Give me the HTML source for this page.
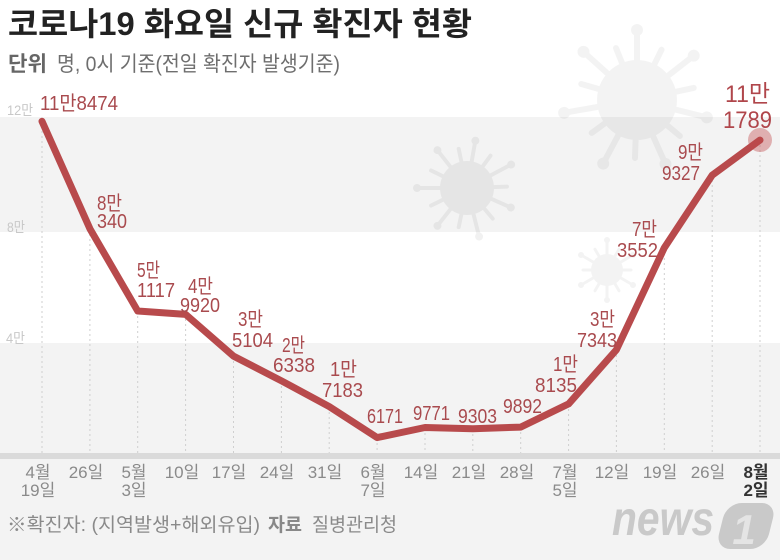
<!DOCTYPE html>
<html><head><meta charset="utf-8"><style>
html,body{margin:0;padding:0;background:#fff;}
svg{display:block;}
text{font-family:"Liberation Sans","Noto Sans CJK KR",sans-serif;}
</style></head><body>
<svg width="780" height="560" viewBox="0 0 780 560" xmlns="http://www.w3.org/2000/svg">
<rect x="0" y="0" width="780" height="560" fill="#ffffff"/>
<rect x="0" y="117" width="780" height="115" fill="#f3f3f3"/>
<rect x="0" y="343" width="780" height="217" fill="#f3f3f3"/>
<rect x="0" y="453" width="780" height="6" fill="#dadada"/>

<!-- viruses -->
<g fill="#000" stroke="#000" opacity="0.045">
 <g transform="translate(637,100)">
  <circle r="40" stroke="none"/>
  <g stroke-width="6" stroke-linecap="round">
   <g transform="rotate(0)"><line y1="0" y2="-70"/><circle cy="-70" r="6" stroke="none"/></g>
   <g transform="rotate(26)"><line y1="0" y2="-56"/></g>
   <g transform="rotate(52)"><line y1="0" y2="-72"/><circle cy="-72" r="6" stroke="none"/></g>
   <g transform="rotate(78)"><line y1="0" y2="-58"/></g>
   <g transform="rotate(104)"><line y1="0" y2="-72"/><circle cy="-72" r="6" stroke="none"/></g>
   <g transform="rotate(130)"><line y1="0" y2="-56"/></g>
   <g transform="rotate(156)"><line y1="0" y2="-70"/><circle cy="-70" r="6" stroke="none"/></g>
   <g transform="rotate(182)"><line y1="0" y2="-58"/></g>
   <g transform="rotate(208)"><line y1="0" y2="-72"/><circle cy="-72" r="6" stroke="none"/></g>
   <g transform="rotate(234)"><line y1="0" y2="-56"/></g>
   <g transform="rotate(260)"><line y1="0" y2="-74"/><circle cy="-74" r="6" stroke="none"/></g>
   <g transform="rotate(286)"><line y1="0" y2="-58"/></g>
   <g transform="rotate(312)"><line y1="0" y2="-72"/><circle cy="-72" r="6" stroke="none"/></g>
   <g transform="rotate(338)"><line y1="0" y2="-56"/></g>
  </g>
 </g>
</g>
<g fill="#000" stroke="#000" opacity="0.05">
 <g transform="translate(467,188)">
  <circle r="27" stroke="none"/>
  <g stroke-width="4" stroke-linecap="round">
   <g transform="rotate(10)"><line y1="0" y2="-48"/><circle cy="-48" r="4" stroke="none"/></g>
   <g transform="rotate(36)"><line y1="0" y2="-40"/></g>
   <g transform="rotate(62)"><line y1="0" y2="-50"/><circle cy="-50" r="4" stroke="none"/></g>
   <g transform="rotate(88)"><line y1="0" y2="-40"/></g>
   <g transform="rotate(114)"><line y1="0" y2="-48"/><circle cy="-48" r="4" stroke="none"/></g>
   <g transform="rotate(140)"><line y1="0" y2="-40"/></g>
   <g transform="rotate(166)"><line y1="0" y2="-50"/><circle cy="-50" r="4" stroke="none"/></g>
   <g transform="rotate(192)"><line y1="0" y2="-40"/></g>
   <g transform="rotate(218)"><line y1="0" y2="-48"/><circle cy="-48" r="4" stroke="none"/></g>
   <g transform="rotate(244)"><line y1="0" y2="-40"/></g>
   <g transform="rotate(270)"><line y1="0" y2="-50"/><circle cy="-50" r="4" stroke="none"/></g>
   <g transform="rotate(296)"><line y1="0" y2="-40"/></g>
   <g transform="rotate(322)"><line y1="0" y2="-48"/><circle cy="-48" r="4" stroke="none"/></g>
   <g transform="rotate(348)"><line y1="0" y2="-40"/></g>
  </g>
 </g>
</g>
<g fill="#000" stroke="#000" opacity="0.045">
 <g transform="translate(607,270)">
  <circle r="16" stroke="none"/>
  <g stroke-width="3" stroke-linecap="round">
   <g transform="rotate(0)"><line y1="0" y2="-30"/><circle cy="-30" r="3" stroke="none"/></g>
   <g transform="rotate(30)"><line y1="0" y2="-24"/></g>
   <g transform="rotate(60)"><line y1="0" y2="-30"/><circle cy="-30" r="3" stroke="none"/></g>
   <g transform="rotate(90)"><line y1="0" y2="-24"/></g>
   <g transform="rotate(120)"><line y1="0" y2="-30"/><circle cy="-30" r="3" stroke="none"/></g>
   <g transform="rotate(150)"><line y1="0" y2="-24"/></g>
   <g transform="rotate(180)"><line y1="0" y2="-30"/><circle cy="-30" r="3" stroke="none"/></g>
   <g transform="rotate(210)"><line y1="0" y2="-24"/></g>
   <g transform="rotate(240)"><line y1="0" y2="-30"/><circle cy="-30" r="3" stroke="none"/></g>
   <g transform="rotate(270)"><line y1="0" y2="-24"/></g>
   <g transform="rotate(300)"><line y1="0" y2="-30"/><circle cy="-30" r="3" stroke="none"/></g>
   <g transform="rotate(330)"><line y1="0" y2="-24"/></g>
  </g>
 </g>
</g>

<!-- title -->
<text x="8" y="35" font-size="32" font-weight="bold" fill="#222" textLength="464" lengthAdjust="spacingAndGlyphs">코로나19 화요일 신규 확진자 현황</text>
<text x="8" y="71" font-size="21" font-weight="bold" fill="#666" textLength="39" lengthAdjust="spacingAndGlyphs">단위</text>
<text x="57" y="71" font-size="21" fill="#6e6e6e" textLength="283" lengthAdjust="spacingAndGlyphs">명, 0시 기준(전일 확진자 발생기준)</text>

<!-- y labels -->
<text x="7" y="115" font-size="14" fill="#c8c8c8" textLength="26" lengthAdjust="spacingAndGlyphs">12만</text>
<text x="7" y="232" font-size="14" fill="#c8c8c8" textLength="18" lengthAdjust="spacingAndGlyphs">8만</text>
<text x="6" y="343" font-size="14" fill="#c8c8c8" textLength="19" lengthAdjust="spacingAndGlyphs">4만</text>

<!-- drop lines -->
<g stroke="#cfcfcf" stroke-width="1" stroke-dasharray="2 3">
 <line x1="42" y1="121" x2="42" y2="453"/>
 <line x1="89.9" y1="229" x2="89.9" y2="453"/>
 <line x1="137.7" y1="311" x2="137.7" y2="453"/>
 <line x1="185.6" y1="314" x2="185.6" y2="453"/>
 <line x1="233.5" y1="356" x2="233.5" y2="453"/>
 <line x1="281.4" y1="381" x2="281.4" y2="453"/>
 <line x1="329.2" y1="407" x2="329.2" y2="453"/>
 <line x1="377.1" y1="438" x2="377.1" y2="453"/>
 <line x1="425" y1="428" x2="425" y2="453"/>
 <line x1="472.8" y1="429" x2="472.8" y2="453"/>
 <line x1="520.7" y1="427" x2="520.7" y2="453"/>
 <line x1="568.6" y1="404" x2="568.6" y2="453"/>
 <line x1="616.4" y1="350" x2="616.4" y2="453"/>
 <line x1="664.3" y1="248" x2="664.3" y2="453"/>
 <line x1="712.2" y1="175" x2="712.2" y2="453"/>
 <line x1="760" y1="140" x2="760" y2="453"/>
</g>

<!-- series -->
<polyline fill="none" stroke="#b84a4c" stroke-width="7" stroke-linejoin="round" stroke-linecap="round"
 points="42,121.3 89.9,228.7 137.7,311 185.6,314.4 233.5,356.1 281.4,380.8 329.2,406.6 377.1,437.6 425,427.5 472.8,428.8 520.7,427.1 568.6,403.9 616.4,349.8 664.3,247.8 712.2,175.2 760,140.1"/>
<circle cx="760" cy="140" r="12" fill="#c0494c" opacity="0.4"/>

<!-- data labels -->
<g font-size="20" fill="#a94a4e">
 <text x="40" y="110" textLength="78" lengthAdjust="spacingAndGlyphs">11만8474</text>
 <text x="97" y="210" textLength="25" lengthAdjust="spacingAndGlyphs">8만</text>
 <text x="97" y="228" textLength="30" lengthAdjust="spacingAndGlyphs">340</text>
 <text x="137" y="277" textLength="23" lengthAdjust="spacingAndGlyphs">5만</text>
 <text x="137" y="297" textLength="38" lengthAdjust="spacingAndGlyphs">1117</text>
 <text x="188" y="293" textLength="25" lengthAdjust="spacingAndGlyphs">4만</text>
 <text x="180" y="312" textLength="40" lengthAdjust="spacingAndGlyphs">9920</text>
 <text x="238" y="326" textLength="25" lengthAdjust="spacingAndGlyphs">3만</text>
 <text x="232" y="347" textLength="41" lengthAdjust="spacingAndGlyphs">5104</text>
 <text x="282" y="352" textLength="23" lengthAdjust="spacingAndGlyphs">2만</text>
 <text x="273" y="372" textLength="42" lengthAdjust="spacingAndGlyphs">6338</text>
 <text x="330" y="376" textLength="27" lengthAdjust="spacingAndGlyphs">1만</text>
 <text x="322" y="397" textLength="41" lengthAdjust="spacingAndGlyphs">7183</text>
 <text x="367" y="423" textLength="36" lengthAdjust="spacingAndGlyphs">6171</text>
 <text x="413" y="420" textLength="37" lengthAdjust="spacingAndGlyphs">9771</text>
 <text x="458" y="423" textLength="39" lengthAdjust="spacingAndGlyphs">9303</text>
 <text x="503" y="413" textLength="39" lengthAdjust="spacingAndGlyphs">9892</text>
 <text x="553" y="371" textLength="25" lengthAdjust="spacingAndGlyphs">1만</text>
 <text x="535" y="392" textLength="42" lengthAdjust="spacingAndGlyphs">8135</text>
 <text x="590" y="326" textLength="25" lengthAdjust="spacingAndGlyphs">3만</text>
 <text x="577" y="347" textLength="40" lengthAdjust="spacingAndGlyphs">7343</text>
 <text x="632" y="236" textLength="25" lengthAdjust="spacingAndGlyphs">7만</text>
 <text x="617" y="257" textLength="41" lengthAdjust="spacingAndGlyphs">3552</text>
 <text x="678" y="159" textLength="25" lengthAdjust="spacingAndGlyphs">9만</text>
 <text x="662" y="180" textLength="38" lengthAdjust="spacingAndGlyphs">9327</text>
</g>
<g font-size="24" fill="#b0464b">
 <text x="725" y="102" textLength="45" lengthAdjust="spacingAndGlyphs">11만</text>
 <text x="723" y="128" textLength="49" lengthAdjust="spacingAndGlyphs">1789</text>
</g>

<!-- x labels -->
<g font-size="17" fill="#8a8a8a" text-anchor="middle">
 <text x="38" y="478">4월</text><text x="38" y="496">19일</text>
 <text x="86" y="478">26일</text>
 <text x="134" y="478">5월</text><text x="134" y="496">3일</text>
 <text x="182" y="478">10일</text>
 <text x="229" y="478">17일</text>
 <text x="277" y="478">24일</text>
 <text x="325" y="478">31일</text>
 <text x="373" y="478">6월</text><text x="373" y="496">7일</text>
 <text x="421" y="478">14일</text>
 <text x="469" y="478">21일</text>
 <text x="517" y="478">28일</text>
 <text x="565" y="478">7월</text><text x="565" y="496">5일</text>
 <text x="612" y="478">12일</text>
 <text x="660" y="478">19일</text>
 <text x="708" y="478">26일</text>
 <text x="756" y="478" font-weight="bold" fill="#333">8월</text><text x="756" y="496" font-weight="bold" fill="#333">2일</text>
</g>

<!-- footer -->
<text x="7" y="531" font-size="19" fill="#8a8a8a" textLength="253" lengthAdjust="spacingAndGlyphs">※확진자: (지역발생+해외유입)</text>
<text x="268" y="531" font-size="19" font-weight="bold" fill="#888" textLength="34" lengthAdjust="spacingAndGlyphs">자료</text>
<text x="312" y="531" font-size="19" fill="#8a8a8a" textLength="85" lengthAdjust="spacingAndGlyphs">질병관리청</text>

<!-- news1 logo -->
<text x="612" y="535" font-size="48" font-weight="bold" font-style="italic" fill="#c9c9c9" textLength="102" lengthAdjust="spacingAndGlyphs">news</text>
<g transform="translate(745,526) skewX(-14)">
 <rect x="-24" y="-23" width="50" height="46" rx="15" fill="#c9c9c9"/>
</g>
<text x="744" y="544" font-size="42" font-weight="bold" font-style="italic" fill="#e4e4e4" text-anchor="middle">1</text>
</svg>
</body></html>
